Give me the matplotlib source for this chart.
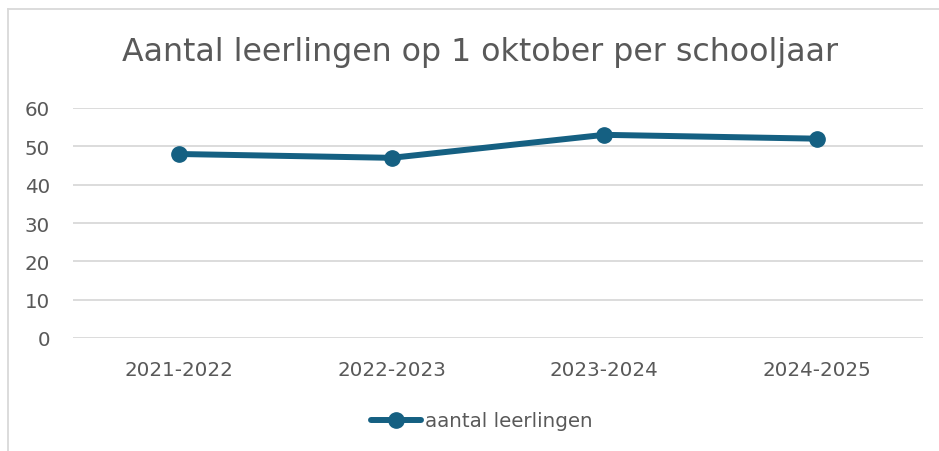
import matplotlib.pyplot as plt
from matplotlib.lines import Line2D

# data
schooljaren = ['2021-2022', '2022-2023', '2023-2024', '2024-2025']
leerlingen = [48, 47, 53, 52]

text_color = '#595959'
line_color = '#156082'
grid_color = '#D9D9D9'

plt.rcParams['font.family'] = ['DejaVu Sans']

fig = plt.figure(figsize=(9.39, 4.52), dpi=100)
ax = fig.add_axes([73 / 939, 1 - 339 / 452, 850 / 939, 230 / 452])

x = range(len(schooljaren))
ax.plot(x, leerlingen, color=line_color, linewidth=4.3, marker='o',
        markersize=11, solid_capstyle='round', label='aantal leerlingen')

ax.set_xlim(-0.5, len(schooljaren) - 0.5)
ax.set_ylim(0, 60)
ax.set_yticks(range(0, 61, 10))
ax.set_xticks(list(x))
ax.set_xticklabels(schooljaren)

ax.grid(axis='y', color=grid_color, linewidth=1.3)
ax.set_axisbelow(True)
for s in ax.spines.values():
    s.set_visible(False)
ax.tick_params(length=0, labelsize=14.3, colors=text_color)
ax.tick_params(axis='y', pad=16.5)
ax.tick_params(axis='x', pad=16)

# titel
fig.text(480 / 939, 1 - 52 / 452, 'Aantal leerlingen op 1 oktober per schooljaar',
         ha='center', va='center', fontsize=22.8, color=text_color)

# legenda
leg = fig.legend(loc='center', bbox_to_anchor=(482 / 939, 1 - 422 / 452), frameon=False,
                 fontsize=14.3, labelcolor=text_color, handlelength=2.5, handletextpad=0.2)

# rand van de grafiek
fig.add_artist(Line2D([8 / 939, 1], [1 - 10 / 452, 1 - 10 / 452], color=grid_color, linewidth=1.3))
fig.add_artist(Line2D([8 / 939, 8 / 939], [0, 1 - 10 / 452], color=grid_color, linewidth=1.3))

plt.savefig('out.png', dpi=100)
